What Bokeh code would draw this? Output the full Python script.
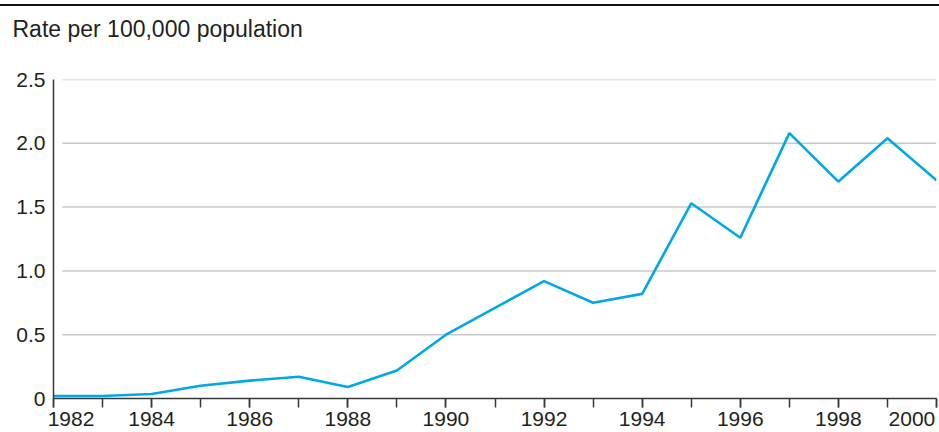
from bokeh.plotting import figure
from bokeh.models import FixedTicker, Range1d, Title
from bokeh.embed import file_html
from bokeh.resources import INLINE

# ---- data ----
years = list(range(1982, 2001))
rates = [0.02, 0.02, 0.035, 0.10, 0.14, 0.17, 0.09, 0.22, 0.50, 0.71,
         0.92, 0.75, 0.82, 1.53, 1.26, 2.08, 1.70, 2.04, 1.71]
y_ticks = [0, 0.5, 1.0, 1.5, 2.0, 2.5]
y_tick_labels = ["0", "0.5", "1.0", "1.5", "2.0", "2.5"]
x_label_years = [1982, 1984, 1986, 1988, 1990, 1992, 1994, 1996, 1998, 2000]
x_label_texts = ["1982", "1984", "1986", "1988", "1990", "1992", "1994", "1996", "1998", "2000"]
title_text = "Rate per 100,000 population"

FONT = "Liberation Sans"
TXT = "#231f20"
AX = "#383838"
FS = "\u2007"  # figure space, nudges the first label right
TS = "\u2009"  # thin space, nudges the last label left

p = figure(width=939, height=426, x_range=Range1d(years[0], years[-1]), y_range=Range1d(0, 2.5),
           output_backend="svg", toolbar_location=None, title=None,
           min_border_left=53, min_border_right=3, min_border_top=73, min_border_bottom=32)
p.styles = {"border-top": "2px solid #111", "margin-top": "4px"}
p.outline_line_color = None
p.background_fill_color = "white"
p.border_fill_color = "white"

# y axis
ya = p.left[0]
ya.ticker = FixedTicker(ticks=y_ticks)
ya.major_label_overrides = {t: l for t, l in zip(y_ticks, y_tick_labels)}
ya.major_tick_out = 0
ya.major_tick_in = 0
ya.minor_tick_out = 0
ya.minor_tick_in = 0
ya.axis_line_color = AX
ya.axis_line_width = 1.5
ya.major_label_standoff = 8
ya.major_label_text_font = FONT
ya.major_label_text_font_size = "21px"
ya.major_label_text_color = TXT

# x axis (bottom)
xa = p.below[0]
xa.ticker = FixedTicker(ticks=x_label_years, minor_ticks=years)
overrides = {y: t for y, t in zip(x_label_years, x_label_texts)}
overrides[x_label_years[0]] = FS * 3 + x_label_texts[0]
overrides[x_label_years[-1]] = x_label_texts[-1] + TS
xa.major_label_overrides = overrides
xa.major_tick_out = 9
xa.major_tick_in = 0
xa.minor_tick_out = 9
xa.minor_tick_in = 0
xa.major_tick_line_color = AX
xa.minor_tick_line_color = AX
xa.major_tick_line_width = 1.5
xa.minor_tick_line_width = 1.5
xa.axis_line_color = AX
xa.axis_line_width = 1.5
xa.major_label_standoff = -1
xa.major_label_text_font = FONT
xa.major_label_text_font_size = "21px"
xa.major_label_text_color = TXT

# blank spacer between the frame and the title, so the title sits higher
spacer = Title(text="\u00a0", text_font_size="10px", standoff=21, text_color="white")
p.add_layout(spacer, "above")
title = Title(text=title_text, text_font=FONT, text_font_size="23px", text_font_style="normal",
              text_color=TXT, align="left", vertical_align="top", offset=-41, standoff=4)
p.add_layout(title, "above")

# horizontal grid lines, starting a little right of the y axis as in the original
p.xgrid.grid_line_color = None
p.ygrid.grid_line_color = None
p.segment(x0=[years[0] + 0.18] * (len(y_ticks) - 1), x1=[years[-1]] * (len(y_ticks) - 1),
          y0=y_ticks[1:], y1=y_ticks[1:], line_color="#c8c8c8", line_width=1.5)

p.line(years, rates, line_color="#00a9e6", line_width=2.6)

open("out.html", "w").write(file_html(p, INLINE))
